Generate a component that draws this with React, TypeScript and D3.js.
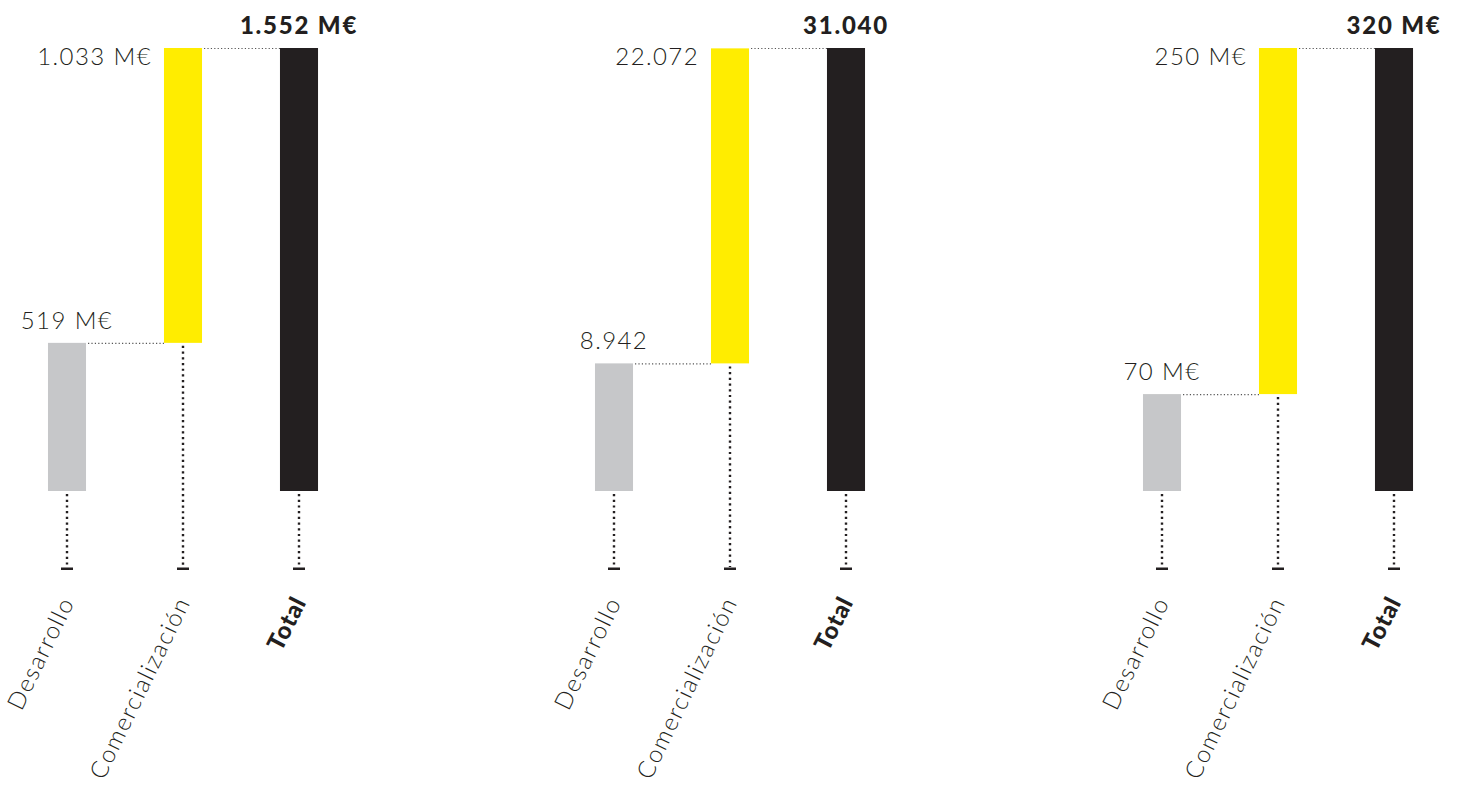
import React, { useEffect, useRef } from "react";
import * as d3 from "d3";

const categories = ["Desarrollo", "Comercialización", "Total"];
const desarrollo = [519, 8942, 70];
const comercializacion = [1033, 22072, 250];
const totals = [1552, 31040, 320];
const units = [" M€", "", " M€"];

const W = 1462;
const H = 787;
const panelStarts = [9, 556, 1104];
const STEP = 116;
const BASE_Y = 491;
const TOP_Y = 48;
const AXIS_Y = 568;
const LABEL_Y = 602;

const INK = "#231f20";
const GRAY = "#c6c7c9";
const YELLOW = "#ffed00";
const FONT = "Lato, 'Open Sans', sans-serif";

const loc = d3.formatLocale({ decimal: ",", thousands: ".", grouping: [3], currency: ["", ""] });
const fmt = loc.format(",d");

export default function App() {
  const ref = useRef<SVGSVGElement>(null);

  useEffect(() => {
    const svg = d3.select(ref.current);
    svg.selectAll("*").remove();

    panelStarts.forEach((px, i) => {
      const x = d3
        .scaleBand<string>()
        .domain(categories)
        .range([px, px + 3 * STEP])
        .paddingInner(0.672)
        .paddingOuter(0.336);
      const y = d3.scaleLinear().domain([0, totals[i]]).range([BASE_Y, TOP_Y]);
      const bw = x.bandwidth();
      const g = svg.append("g");

      const bars = [
        { cat: categories[0], y0: 0, y1: desarrollo[i], fill: GRAY },
        { cat: categories[1], y0: desarrollo[i], y1: desarrollo[i] + comercializacion[i], fill: YELLOW },
        { cat: categories[2], y0: 0, y1: totals[i], fill: INK },
      ];

      // vertical dotted lines to axis
      bars.forEach((b) => {
        const cx = (x(b.cat) as number) + bw / 2;
        g.append("line")
          .attr("x1", cx)
          .attr("x2", cx)
          .attr("y1", y(b.y0) + 3)
          .attr("y2", AXIS_Y - 1)
          .attr("stroke", INK)
          .attr("stroke-width", 2.4)
          .attr("stroke-dasharray", "2.2 3.5");
        g.append("rect")
          .attr("x", cx - 6)
          .attr("y", AXIS_Y - 0.5)
          .attr("width", 12)
          .attr("height", 2.5)
          .attr("fill", INK);
      });

      // horizontal connectors
      const xg = x(categories[0]) as number;
      const xy = x(categories[1]) as number;
      const xt = x(categories[2]) as number;
      g.append("line")
        .attr("x1", xg + bw + 2)
        .attr("x2", xy)
        .attr("y1", y(desarrollo[i]) + 0.5)
        .attr("y2", y(desarrollo[i]) + 0.5)
        .attr("stroke", "#555")
        .attr("stroke-width", 1.2)
        .attr("stroke-dasharray", "1.2 2.2");
      g.append("line")
        .attr("x1", xy + bw + 2)
        .attr("x2", xt)
        .attr("y1", y(totals[i]) + 0.5)
        .attr("y2", y(totals[i]) + 0.5)
        .attr("stroke", "#555")
        .attr("stroke-width", 1.2)
        .attr("stroke-dasharray", "1.2 2.2");

      // bars
      bars.forEach((b) => {
        g.append("rect")
          .attr("x", x(b.cat) as number)
          .attr("y", y(b.y1))
          .attr("width", bw)
          .attr("height", y(b.y0) - y(b.y1))
          .attr("fill", b.fill);
      });

      // value labels
      g.append("text")
        .attr("x", xg + bw / 2)
        .attr("y", y(desarrollo[i]) - 14)
        .attr("text-anchor", "middle")
        .attr("font-family", FONT)
        .attr("font-weight", 300)
        .attr("font-size", 24)
        .attr("letter-spacing", 1.4)
        .attr("fill", INK)
        .text(fmt(desarrollo[i]) + units[i]);
      g.append("text")
        .attr("x", xy - 12)
        .attr("y", y(desarrollo[i] + comercializacion[i]) + 17)
        .attr("text-anchor", "end")
        .attr("font-family", FONT)
        .attr("font-weight", 300)
        .attr("font-size", 24)
        .attr("letter-spacing", 1.4)
        .attr("fill", INK)
        .text(fmt(comercializacion[i]) + units[i]);
      g.append("text")
        .attr("x", xt + bw / 2)
        .attr("y", y(totals[i]) - 14)
        .attr("text-anchor", "middle")
        .attr("font-family", FONT)
        .attr("font-weight", 900)
        .attr("font-size", 24)
        .attr("letter-spacing", 1.8)
        .attr("fill", INK)
        .text(fmt(totals[i]) + units[i]);

      // category labels
      categories.forEach((c, k) => {
        const cx = (x(c) as number) + bw / 2 + 8;
        g.append("text")
          .attr("transform", `translate(${cx},${LABEL_Y}) rotate(${k === 2 ? -63 : -64})`)
          .attr("text-anchor", "end")
          .attr("font-family", FONT)
          .attr("font-weight", k === 2 ? 900 : 300)
          .attr("font-size", 24)
          .attr("letter-spacing", k === 2 ? 0.8 : 1.6)
          .attr("fill", INK)
          .text(c);
      });
    });
  }, []);

  return (
    <svg
      ref={ref}
      width={W}
      height={H}
      style={{ position: "absolute", left: 0, top: 0, display: "block", background: "#fff" }}
    />
  );
}
